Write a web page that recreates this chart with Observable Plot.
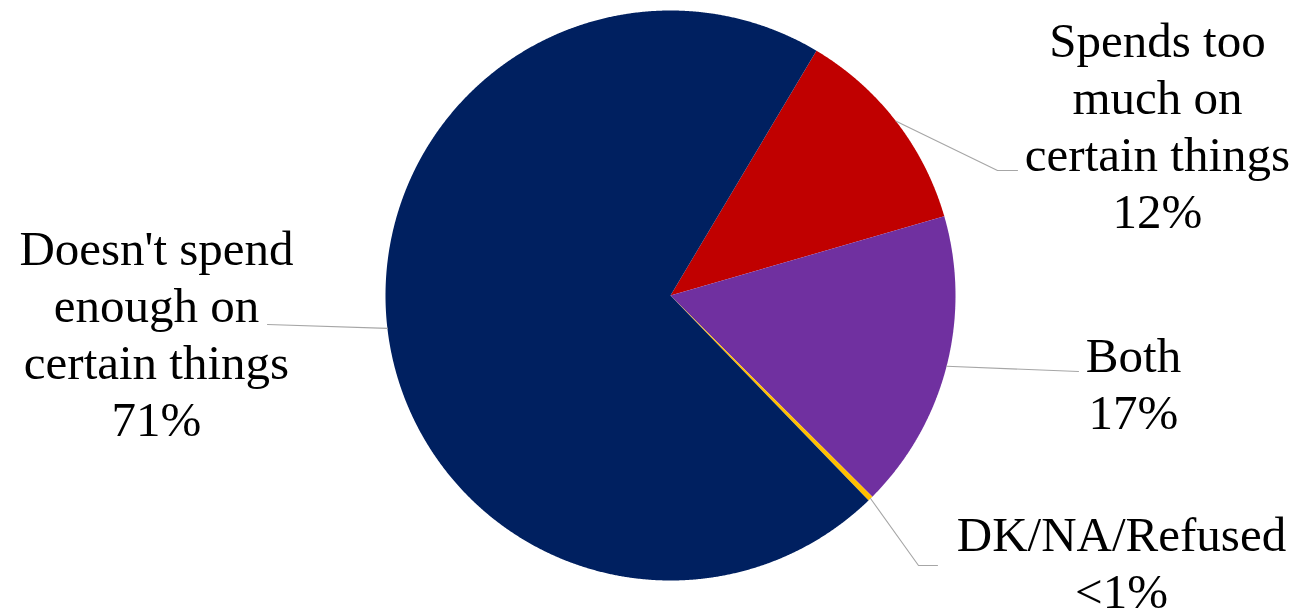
<!DOCTYPE html>
<html>
<head>
<meta charset="utf-8">
<script src="https://cdn.jsdelivr.net/npm/d3@7"></script>
<script src="https://cdn.jsdelivr.net/npm/@observablehq/plot@0.6"></script>
<style>
  html, body { margin: 0; padding: 0; background: #fff; }
  #chart svg { display: block; }
</style>
</head>
<body>
<div id="chart"></div>
<script>
// ---- Data ----
const categories = [
  "Spends too much on certain things",
  "Both",
  "DK/NA/Refused",
  "Doesn't spend enough on certain things"
];
const values = [12, 17, 0.3, 71];
const percentLabels = ["12%", "17%", "<1%", "71%"];
const labelNames = [
  "Spends too\nmuch on\ncertain things",
  "Both",
  "DK/NA/Refused",
  "Doesn't spend\nenough on\ncertain things"
];
const colors = ["#C00000", "#7030A0", "#FFC000", "#002060"];

// ---- Layout (pixels) ----
const W = 1297, H = 615;
const layout = {
  cx: 670, cy: 295, r: 285, startDeg: 30.8,
  fontSize: 49, lineHeight: 1.163,
  labels: [
    {x: 1157, y: 227, path: [[997, 170], [1017, 170]]},
    {x: 1133, y: 428, path: [[1078, 371]]},
    {x: 1121, y: 607, path: [[918, 565], [937, 565]]},
    {x: 156,  y: 435, path: [[267, 324]]}
  ]
};
const ux = px => (px - layout.cx) / layout.r;
const uy = py => (layout.cy - py) / layout.r;

// ---- Pie geometry from data ----
const rows = categories.map((name, i) => ({name, value: values[i], i}));
const a0 = layout.startDeg * Math.PI / 180;
const arcs = d3.pie().sort(null).value(d => d.value).startAngle(a0).endAngle(a0 + 2 * Math.PI)(rows);

const slicePts = [];
const step = 0.2 * Math.PI / 180;
for (const arc of arcs) {
  const name = arc.data.name;
  slicePts.push({name, x: 0, y: 0});
  const n = Math.max(2, Math.ceil((arc.endAngle - arc.startAngle) / step));
  for (let k = 0; k <= n; k++) {
    const a = arc.startAngle + (arc.endAngle - arc.startAngle) * k / n;
    slicePts.push({name, x: Math.sin(a), y: Math.cos(a)});
  }
  slicePts.push({name, x: 0, y: 0});
}

const leaderPts = [];
const labelRows = [];
arcs.forEach((arc, i) => {
  const name = arc.data.name;
  const mid = (arc.startAngle + arc.endAngle) / 2;
  leaderPts.push({name, x: Math.sin(mid), y: Math.cos(mid)});
  for (const [px, py] of layout.labels[i].path) leaderPts.push({name, x: ux(px), y: uy(py)});
  labelRows.push({
    x: ux(layout.labels[i].x), y: uy(layout.labels[i].y),
    text: labelNames[i] + "\n" + percentLabels[i]
  });
});

const chart = Plot.plot({
  width: W, height: H, margin: 0,
  style: {background: "#fff"},
  x: {domain: [ux(0), ux(W)], range: [0, W], axis: null},
  y: {domain: [uy(H), uy(0)], range: [H, 0], axis: null},
  color: {domain: categories, range: colors},
  marks: [
    Plot.line(slicePts, {x: "x", y: "y", z: "name", fill: "name", stroke: null, curve: "linear"}),
    Plot.line(leaderPts, {x: "x", y: "y", z: "name", stroke: "#A6A6A6", strokeWidth: 1.1}),
    Plot.text(labelRows, {
      x: "x", y: "y", text: "text",
      fontSize: layout.fontSize, lineHeight: layout.lineHeight,
      fontFamily: "'Liberation Serif', 'Times New Roman', serif",
      textAnchor: "middle", lineAnchor: "bottom", fill: "#000"
    })
  ]
});
document.getElementById("chart").appendChild(chart);
</script>
</body>
</html>
